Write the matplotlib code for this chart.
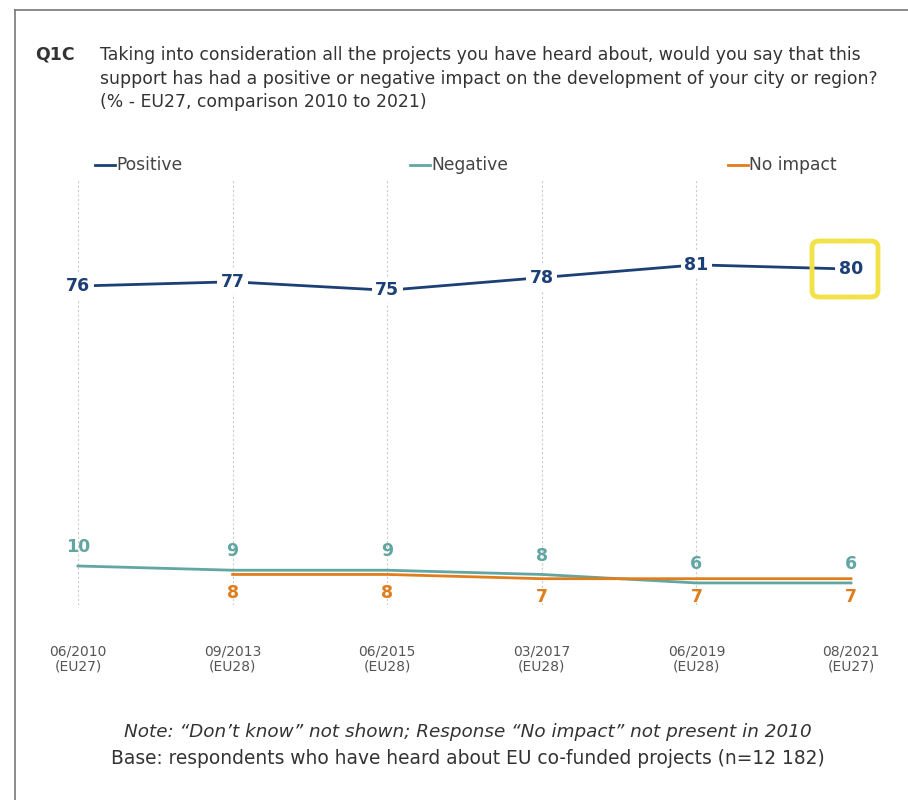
import matplotlib.pyplot as plt
from matplotlib.lines import Line2D
from matplotlib.patches import FancyBboxPatch

# data
dates = ["06/2010\n(EU27)", "09/2013\n(EU28)", "06/2015\n(EU28)",
         "03/2017\n(EU28)", "06/2019\n(EU28)", "08/2021\n(EU27)"]
positive = [76, 77, 75, 78, 81, 80]
negative = [10, 9, 9, 8, 6, 6]
no_impact = [None, 8, 8, 7, 7, 7]

c_pos = "#1c3f75"
c_neg = "#62a6a2"
c_no = "#e07d1c"
grey = "#555555"

fig = plt.figure(figsize=(9.08, 8), dpi=100)
W, H = 908, 800

# frame around the chart
fig.add_artist(Line2D([15 / W, 1], [1 - 10 / H, 1 - 10 / H], color="#777777", lw=1.2))
fig.add_artist(Line2D([15 / W, 15 / W], [0, 1 - 10 / H], color="#777777", lw=1.2))

# title
fig.text(35 / W, 1 - 60 / H, "Q1C", fontsize=12.5, fontweight="bold", color="#333333", va="baseline")
title_lines = ["Taking into consideration all the projects you have heard about, would you say that this",
               "support has had a positive or negative impact on the development of your city or region?",
               "(% - EU27, comparison 2010 to 2021)"]
for i, line in enumerate(title_lines):
    fig.text(100 / W, 1 - (60 + 23.5 * i) / H, line, fontsize=12.4, color="#333333", va="baseline")

# axes
ax = fig.add_axes([78 / W, 1 - 605 / H, (851 - 78) / W, 425 / H])
ax.set_xlim(0, 5)
ax.set_ylim(0.8, 101)
ax.axis("off")

x = list(range(len(dates)))
for xi in x:
    ax.axvline(xi, color="#cccccc", lw=0.8, ls=(0, (2, 2)), zorder=0)

ax.plot(x, positive, color=c_pos, lw=2, clip_on=False, zorder=2)
ax.plot(x, negative, color=c_neg, lw=2, clip_on=False, zorder=2)
ax.plot(x[1:], no_impact[1:], color=c_no, lw=2, clip_on=False, zorder=2)

for xi, v in zip(x, positive):
    ax.text(xi, v, str(v), color=c_pos, fontsize=12.5, fontweight="bold", ha="center", va="center",
            bbox=dict(facecolor="white", edgecolor="none", pad=2.5), zorder=3)
for xi, v in zip(x, negative):
    ax.annotate(str(v), (xi, v), xytext=(0, 7), textcoords="offset points", color=c_neg,
                fontsize=12.5, fontweight="bold", ha="center", va="bottom")
for xi, v in zip(x, no_impact):
    if v is None:
        continue
    ax.annotate(str(v), (xi, v), xytext=(0, -7), textcoords="offset points", color=c_no,
                fontsize=12.5, fontweight="bold", ha="center", va="top")

for xi, lab in zip(x, dates):
    ax.text(xi, -8.5, lab, color=grey, fontsize=10, ha="center", va="top", linespacing=1.1)

# highlight box on latest positive value
box = FancyBboxPatch((812 / W, 1 - 297 / H), 66 / W, 56 / H,
                     boxstyle="round,pad=0,rounding_size=0.008", transform=fig.transFigure,
                     facecolor="none", edgecolor="#f2e24a", lw=3.5, zorder=4)
fig.add_artist(box)

# legend
for lx, name, col in [(95, "Positive", c_pos), (410, "Negative", c_neg), (728, "No impact", c_no)]:
    fig.add_artist(Line2D([lx / W, (lx + 20) / W], [1 - 165 / H, 1 - 165 / H], color=col, lw=2))
    fig.text((lx + 21) / W, 1 - 165 / H, name, fontsize=12.3, color="#444444", va="center")

# notes
fig.text(468 / W, 1 - 732 / H, "Note: \u201cDon\u2019t know\u201d not shown; Response \u201cNo impact\u201d not present in 2010",
         fontsize=13.2, style="italic", color="#333333", ha="center", va="center")
fig.text(468 / W, 1 - 758 / H, "Base: respondents who have heard about EU co-funded projects (n=12 182)",
         fontsize=13.4, color="#333333", ha="center", va="center")

fig.savefig("out.png", dpi=100)
